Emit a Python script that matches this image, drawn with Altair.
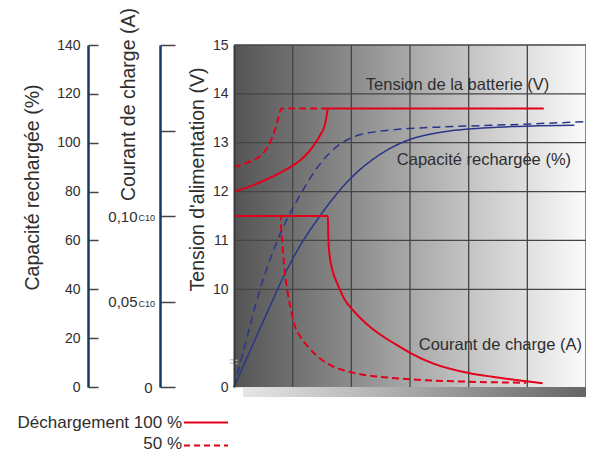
import altair as alt
import pandas as pd

# ---------------- data ----------------
# Tension de la batterie (V) - décharge 100 % (solid) and 50 % (dashed)
volt100_h = [0, 1.1, 2.5, 3.5, 4.5, 5.6, 6.4, 7.0, 7.4, 7.7, 7.9, 8.0, 26.4]
volt100_v = [12.0, 12.08, 12.22, 12.33, 12.46, 12.63, 12.82, 13.02, 13.18, 13.33, 13.55, 13.7, 13.7]
volt50_h = [0, 1.1, 2.0, 2.6, 3.0, 3.4, 3.8, 4.05, 8.0]
volt50_v = [12.5, 12.59, 12.69, 12.82, 12.97, 13.2, 13.52, 13.7, 13.7]

# Courant de charge (x C10)
cur100_h = [0, 8.0, 8.03, 8.07, 8.14, 8.42, 8.84, 9.4, 10.1, 10.96, 11.5, 12.4, 14.0, 15.0, 17.0, 20.0, 22.0, 24.2, 26.3]
cur100_i = [0.100, 0.100, 0.090, 0.083, 0.0774, 0.0676, 0.0598, 0.0515, 0.0452, 0.0390, 0.0357, 0.0310, 0.0240, 0.0200, 0.0137, 0.0082, 0.0060, 0.0040, 0.0022]
cur50_h = [0, 3.98, 4.02, 4.1, 4.32, 4.6, 4.89, 5.2, 5.7, 6.3, 7.3, 8.3, 9.5, 11.0, 13.0, 15.0, 20.0, 24.9]
cur50_i = [0.100, 0.100, 0.093, 0.085, 0.068, 0.054, 0.044, 0.0355, 0.029, 0.0236, 0.0168, 0.0125, 0.0095, 0.0072, 0.0056, 0.0045, 0.0031, 0.0025]

# Capacité rechargée (%)
cap100_h = [0, 1.0, 2.0, 3.0, 4.0, 5.0, 5.63, 5.96, 7.29, 8.14, 9.58, 10.7, 11.8, 13.0, 14.1, 15.5, 16.9, 18.5, 20.0, 22.0, 23.7, 26.0, 29.0]
cap100_c = [0, 10.8, 21.6, 32.3, 43, 52.5, 57.8, 60.4, 69.8, 75.3, 83.6, 88.9, 93.1, 96.9, 99.6, 102.1, 103.7, 104.9, 105.6, 106.2, 106.6, 106.9, 107.2]
cap50_h = [0, 1.2, 2.2, 3.2, 3.66, 4.04, 4.6, 5.07, 5.6, 6.0, 6.76, 7.5, 8.17, 9.0, 10.1, 11.2, 12.4, 14.9, 18.0, 23.65, 29.85]
cap50_c = [0, 22, 39.7, 53.8, 59.5, 63.8, 69.5, 73.8, 78.3, 81.6, 87.5, 92.3, 95.9, 99.3, 102.2, 103.8, 104.7, 105.8, 106.5, 107.4, 108.6]

# axes / grid
x_ticks = [0, 5, 10, 15, 20, 25]
grid_h = [5, 10, 15, 20, 25, 30]
v_ticks = [8, 10, 11, 12, 13, 14, 15]
grid_v = [10, 11, 12, 13, 14, 15]
cap_ticks = [0, 20, 40, 60, 80, 100, 120, 140]
cur_ticks = [0, 0.05, 0.10, 0.15, 0.20]
cur_sub = [0.05, 0.10]

# annotations (in hours / volts)
ann_text = ["Tension de la batterie (V)", "Capacité rechargée (%)", "Courant de charge (A)"]
ann_h = [19.05, 21.3, 22.7]
ann_v = [14.18, 12.65, 8.85]

legend_labels = ["Déchargement 100 %", "50 %"]

# ---------------- styling ----------------
W, H = 352, 342
RED = "#e2001a"
BLUE = "#2b3689"
NAVY = "#163a66"
TXT = "#2e2e2e"
GRID = "#454545"
FONT = "Liberation Sans"

xscale = alt.Scale(domain=[0, 30], nice=False, zero=False)
vscale = alt.Scale(domain=[8, 15], nice=False, zero=False)
iscale = alt.Scale(domain=[0, 0.2], nice=False, zero=False)
cscale = alt.Scale(domain=[0, 140], nice=False, zero=False)

one = pd.DataFrame({"k": [0]})


def df(h, y):
    return pd.DataFrame({"h": h, "y": y})


def X():
    return alt.X("h:Q", scale=xscale, axis=None)


xaxis = alt.Axis(values=x_ticks, grid=False, ticks=False, domain=True, domainColor="#3a3a3a",
                 domainWidth=2, labelPadding=18, labelFontSize=14, labelColor=TXT, labelFont=FONT,
                 labelFlush=False, title="Temps de chargement (h)", titleFontSize=20, titleFont=FONT,
                 titleFontWeight="normal", titleColor=TXT, titleX=231, titleY=48,
                 titleAlign="center", titleBaseline="middle", zindex=1)

vaxis = alt.Axis(values=v_ticks, labelExpr="datum.value == 8 ? '0' : datum.label", grid=False,
                 ticks=False, domain=True, domainColor="#3a3a3a", domainWidth=2, labelPadding=6,
                 labelFontSize=14, labelColor=TXT, labelFont=FONT, labelFlush=False,
                 title="Tension d'alimentation (V)", titleX=-37, titleY=134, titleAngle=270,
                 titleAlign="center", titleBaseline="middle", titleFontSize=19.5, titleFont=FONT,
                 titleFontWeight="normal", titleColor=TXT, zindex=1)

caxis = alt.Axis(orient="right", offset=-(W + 146), values=cap_ticks, grid=False, ticks=True, tickSize=10,
                 tickColor="#444444", tickWidth=1.5, domainColor=NAVY, domainWidth=2.5,
                 labelAlign="right", labelPadding=-18, labelBaseline="middle", labelFontSize=14,
                 labelColor=TXT, labelFont=FONT, labelFlush=False,
                 title="Capacité rechargée (%)", titleX=-56, titleY=142, titleAngle=270,
                 titleAlign="center", titleBaseline="middle", titleFontSize=19.5, titleFont=FONT,
                 titleFontWeight="normal", titleColor=TXT, zindex=1)

iaxis = alt.Axis(orient="right", offset=-(W + 74), values=cur_ticks,
                 labelExpr="datum.value == 0 ? '0' : (abs(datum.value - 0.05) < 1e-6 ? '0,05' : (abs(datum.value - 0.1) < 1e-6 ? '0,10' : ''))",
                 grid=False, ticks=True, tickSize=15, tickColor="#444444", tickWidth=1.5,
                 domainColor=NAVY, domainWidth=2.5, labelAlign="right",
                 labelPadding={"condition": {"test": "datum.value == 0", "value": -23}, "value": -38},
                 labelBaseline="middle", labelFontSize=15, labelColor=TXT, labelFont=FONT,
                 labelFlush=False, title="Courant de charge (A)", titleX=-32, titleY=59,
                 titleAngle=270, titleAlign="center", titleBaseline="middle", titleFontSize=19.5,
                 titleFont=FONT, titleFontWeight="normal", titleColor=TXT, zindex=1)

# ---------------- layers ----------------
bg = alt.Chart(one).mark_rect(
    color=alt.Gradient(gradient="linear", x1=0, x2=1, y1=0, y2=0,
                       stops=[alt.GradientStop(color="#545454", offset=0),
                              alt.GradientStop(color="#fbfbfb", offset=1)])
).encode(x=alt.value(0), x2=alt.value(W), y=alt.value(0), y2=alt.value(H))

shadow_b = alt.Chart(one).mark_rect(
    color=alt.Gradient(gradient="linear", x1=0, x2=1, y1=0, y2=0,
                       stops=[alt.GradientStop(color="#e6e6e6", offset=0),
                              alt.GradientStop(color="#666666", offset=1)])
).encode(x=alt.value(9), x2=alt.value(W), y=alt.value(H), y2=alt.value(H + 10))

grid_x = alt.Chart(pd.DataFrame({"h": grid_h})).mark_rule(color=GRID, strokeWidth=1.3).encode(x=X())
grid_y = alt.Chart(pd.DataFrame({"v": grid_v})).mark_rule(color=GRID, strokeWidth=1.3).encode(
    y=alt.Y("v:Q", scale=vscale, axis=None))

cap100 = alt.Chart(df(cap100_h, cap100_c)).mark_line(color=BLUE, strokeWidth=1.5, interpolate="monotone").encode(
    x=X(), y=alt.Y("y:Q", scale=cscale, axis=caxis))
cap50 = alt.Chart(df(cap50_h, cap50_c)).mark_line(color=BLUE, strokeWidth=1.5, strokeDash=[8, 5],
                                                  interpolate="monotone").encode(
    x=X(), y=alt.Y("y:Q", scale=cscale, axis=None))

volt50 = alt.Chart(df(volt50_h, volt50_v)).mark_line(color=RED, strokeWidth=2, strokeDash=[7, 4],
                                                     interpolate="monotone").encode(
    x=X(), y=alt.Y("y:Q", scale=vscale, axis=None))
volt100 = alt.Chart(df(volt100_h, volt100_v)).mark_line(color=RED, strokeWidth=2, interpolate="monotone").encode(
    x=alt.X("h:Q", scale=xscale, axis=xaxis), y=alt.Y("y:Q", scale=vscale, axis=vaxis))

cur50 = alt.Chart(df(cur50_h, cur50_i)).mark_line(color=RED, strokeWidth=2, strokeDash=[7, 4],
                                                  interpolate="monotone").encode(
    x=X(), y=alt.Y("y:Q", scale=iscale, axis=None))
cur100 = alt.Chart(df(cur100_h, cur100_i)).mark_line(color=RED, strokeWidth=2, interpolate="monotone").encode(
    x=X(), y=alt.Y("y:Q", scale=iscale, axis=iaxis))

ann = alt.Chart(pd.DataFrame({"t": ann_text, "h": ann_h, "v": ann_v})).mark_text(
    fontSize=16.5, font=FONT, color=TXT, align="center", baseline="middle").encode(
    x=X(), y=alt.Y("v:Q", scale=vscale, axis=None), text="t:N")

brk = alt.Chart(pd.DataFrame({"h": [0], "v": [8.52], "t": ["≈"]})).mark_text(
    fontSize=16, font=FONT, color="#bbbbbb", align="center", baseline="middle").encode(
    x=X(), y=alt.Y("v:Q", scale=vscale, axis=None), text="t:N")

c10 = alt.Chart(pd.DataFrame({"i": cur_sub, "t": ["C10"] * len(cur_sub)})).mark_text(
    fontSize=9, font=FONT, color=TXT, align="right", baseline="middle", dy=2).encode(
    x=alt.value(-79), y=alt.Y("i:Q", scale=iscale, axis=None), text="t:N")

leg_t1 = alt.Chart(one).mark_text(text=legend_labels[0], fontSize=17, font=FONT, color=TXT,
                                  align="right", baseline="middle").encode(
    x=alt.value(-52), y=alt.value(378))
leg_t2 = alt.Chart(one).mark_text(text=legend_labels[1], fontSize=17, font=FONT, color=TXT,
                                  align="right", baseline="alphabetic").encode(
    x=alt.value(-52), y=alt.value(403.5))
leg_l1 = alt.Chart(one).mark_rule(color=RED, strokeWidth=2).encode(
    x=alt.value(-50), x2=alt.value(-6), y=alt.value(377.5))
leg_l2 = alt.Chart(one).mark_rule(color=RED, strokeWidth=2, strokeDash=[6, 4]).encode(
    x=alt.value(-50), x2=alt.value(-6), y=alt.value(400.5))

chart = alt.layer(
    bg, shadow_b, grid_x, grid_y,
    cap100, cap50, volt50, volt100, cur50, cur100,
    ann, brk, c10, leg_t1, leg_t2, leg_l1, leg_l2,
).resolve_scale(y="independent").properties(
    width=W, height=H,
    padding={"left": 226, "top": 37, "right": 0, "bottom": 66},
    autosize=alt.AutoSizeParams(type="none"),
).configure_view(stroke=None).configure(font=FONT)

chart.save("out.html", embed_options={"renderer": "svg", "actions": False})
